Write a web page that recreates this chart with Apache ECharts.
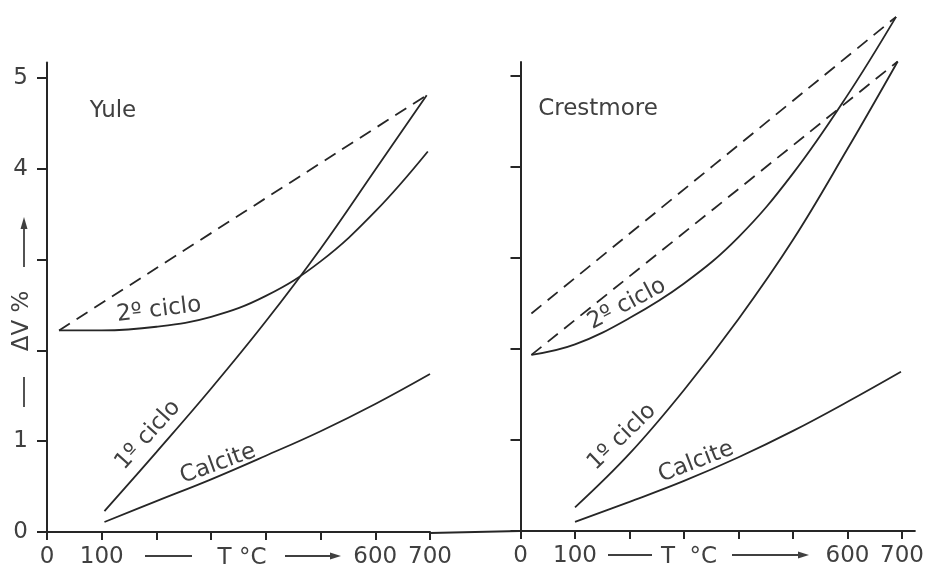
<!DOCTYPE html>
<html><head><meta charset="utf-8">
<script src="https://cdn.jsdelivr.net/npm/echarts@6/dist/echarts.min.js"></script>
<style>html,body{margin:0;padding:0;background:#fff}#c{width:927px;height:569px}</style>
</head><body><div id="c"></div>
<script>
// ---- data ----
const xTicks = [0,100,200,300,400,500,600,700];
const xLabels = [0,100,600,700];
const yTicks = [0,1,2,3,4,5];
const yLabelsLeft = [0,1,4,5];

// Yule
const yuleDashed = [[22,2.22],[694,4.81]];
const yule2 = [[22,2.22],[100,2.22],[200,2.26],[300,2.37],[400,2.60],[500,2.98],[600,3.53],[696,4.19]];
const yule1 = [[105,0.23],[200,0.88],[300,1.58],[400,2.32],[500,3.12],[600,3.99],[694,4.81]];
const yuleCalcite = [[105,0.11],[200,0.34],[300,0.58],[400,0.84],[500,1.11],[600,1.41],[700,1.74]];

// Crestmore
const crestDashedUpper = [[20,2.39],[689,5.65]];
const crestDashedLower = [[20,1.935],[692,5.16]];
const crest2 = [[20,1.935],[100,2.05],[200,2.34],[300,2.72],[400,3.23],[500,3.93],[600,4.79],[689,5.65]];
const crest1 = [[100,0.26],[200,0.85],[300,1.55],[400,2.33],[500,3.20],[600,4.20],[692,5.16]];
const crestCalcite = [[100,0.10],[200,0.32],[300,0.55],[400,0.81],[500,1.10],[600,1.42],[698,1.75]];

// ---- style ----
const INK = '#262626';
const TXT = '#404040';
const FONT = 'DejaVu Sans';

const chart = echarts.init(document.getElementById('c'), null, {renderer:'canvas'});

function xAx(gi, max){
  return {type:'value', gridIndex:gi, min:0, max:max, interval:100,
    axisLine:{show:true, onZero:false, lineStyle:{color:INK, width:2}},
    axisTick:{show:true, length:8, customValues:xTicks, lineStyle:{color:INK, width:2}},
    axisLabel:{show:true, customValues:xLabels, margin:14, color:TXT, fontFamily:FONT, fontSize:23},
    splitLine:{show:false}};
}
function yAx(gi, max, labels){
  return {type:'value', gridIndex:gi, min:0, max:max, interval:1,
    axisLine:{show:true, onZero:false, lineStyle:{color:INK, width:2}},
    axisTick:{show:true, length:10, customValues:yTicks, lineStyle:{color:INK, width:2}},
    axisLabel:{show: labels.length>0, customValues:labels, margin:19, color:TXT, fontFamily:FONT, fontSize:23},
    splitLine:{show:false}};
}
function ser(data, gi, dashed){
  return {type:'line', data:data, xAxisIndex:gi, yAxisIndex:gi, showSymbol:false, symbol:'none',
    clip:false, smooth:0.4, silent:true,
    lineStyle:{color:INK, width:1.8, type: dashed ? [13,8] : 'solid'}};
}
function label(text, x, y, deg, size){
  return {type:'text', x:x, y:y, rotation: deg*Math.PI/180,
    style:{text:text, fill:TXT, font: (size||23)+'px "'+FONT+'"', align:'center', verticalAlign:'middle'}};
}
function hline(x1,y1,x2,y2){
  return {type:'line', shape:{x1:x1,y1:y1,x2:x2,y2:y2}, style:{stroke:TXT, lineWidth:1.8}};
}
function head(pts){
  return {type:'polygon', shape:{points:pts}, style:{fill:TXT}};
}

chart.setOption({
  animation:false,
  backgroundColor:'#fff',
  grid:[
    {left:47, top:62.5, width:383, height:470.5},
    {left:520.5, top:62, width:396.5, height:469}
  ],
  xAxis:[xAx(0,700), xAx(1,723.5)],
  yAxis:[yAx(0,5.17,yLabelsLeft), yAx(1,5.154,[])],
  series:[
    ser(yuleDashed,0,true), ser(yule2,0,false), ser(yule1,0,false), ser(yuleCalcite,0,false),
    ser(crestDashedUpper,1,true), ser(crestDashedLower,1,true), ser(crest2,1,false), ser(crest1,1,false), ser(crestCalcite,1,false)
  ],
  graphic:[
    {type:'line', shape:{x1:430,y1:533,x2:520,y2:531}, style:{stroke:INK, lineWidth:2}},
    label('Yule', 113, 111, 0, 23),
    label('Crestmore', 598, 109, 0, 23),
    label('2º ciclo', 159, 310, 7),
    label('1º ciclo', 148, 435, 48),
    label('Calcite', 218, 464, 20),
    label('2º ciclo', 627, 304, 28),
    label('1º ciclo', 622, 437, 44),
    label('Calcite', 696, 462, 21),
    hline(24,377,24,407),
    label('ΔV %', 22, 321, 90, 23),
    hline(24,267,24,226),
    head([[24,217],[20.5,229],[27.5,229]]),
    hline(145,556,192,556),
    label('T °C', 242, 558, 0, 23),
    hline(285,556,332,556),
    head([[341,556],[330,552.5],[330,559.5]]),
    hline(608,555,652,555),
    label('T  °C', 689, 557, 0, 23),
    hline(732,555,800,555),
    head([[809,555],[798,551.5],[798,558.5]])
  ]
});
</script>
</body></html>
